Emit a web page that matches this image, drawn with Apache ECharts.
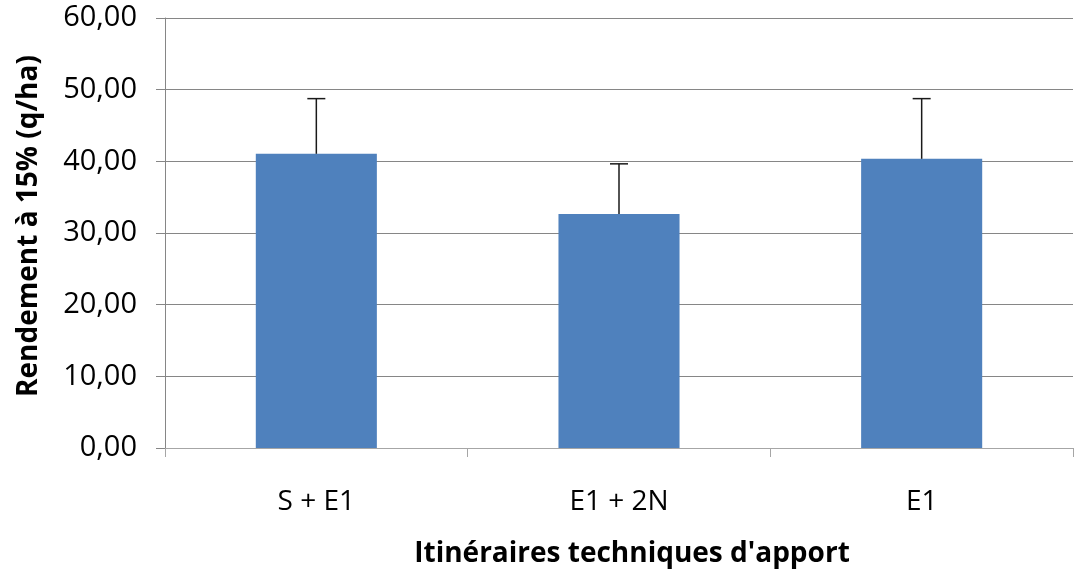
<!DOCTYPE html>
<html>
<head>
<meta charset="utf-8">
<script src="https://cdn.jsdelivr.net/npm/echarts@6/dist/echarts.min.js"></script>
<style>
  html, body { margin: 0; padding: 0; background: #fff; }
  #chart { width: 1074px; height: 571px; }
</style>
</head>
<body>
<div id="chart"></div>
<script>
// données
var categories = ["S + E1", "E1 + 2N", "E1"];
var rendement = [41.05, 32.65, 40.35];
var ecartType = [7.7, 7.0, 8.4];
var yTicks = { min: 0, max: 60, interval: 10 };

var fontFamily = "'Open Sans', 'Liberation Sans', sans-serif";

var errData = rendement.map(function (v, i) {
  return [i, v, v + ecartType[i]];
});

var myChart = echarts.init(document.getElementById("chart"));
myChart.setOption({
  animation: false,
  grid: { left: 165, right: 1, top: 18, bottom: 123, outerBoundsMode: "none", containLabel: false },
  xAxis: {
    type: "category",
    data: categories,
    name: "Itinéraires techniques d'apport",
    nameLocation: "middle",
    nameGap: 92,
    nameTextStyle: { fontFamily: fontFamily, fontSize: 28, fontWeight: "bold", color: "#000", padding: [0, 0, 0, 26] },
    axisLine: { lineStyle: { color: "#a6a6a6", width: 1 } },
    axisTick: { show: true, length: 9, alignWithLabel: false, lineStyle: { color: "#a6a6a6" } },
    axisLabel: { fontFamily: fontFamily, fontSize: 28, color: "#000", margin: 40 },
  },
  yAxis: {
    type: "value",
    min: yTicks.min,
    max: yTicks.max,
    interval: yTicks.interval,
    name: "Rendement à 15% (q/ha)",
    nameLocation: "middle",
    nameGap: 122,
    nameRotate: 90,
    nameTextStyle: { fontFamily: fontFamily, fontSize: 28, fontWeight: "bold", color: "#000", padding: [0, 0, 0, 14] },
    axisLine: { show: true, lineStyle: { color: "#868686", width: 1 } },
    axisTick: { show: true, length: 9, lineStyle: { color: "#868686" } },
    splitLine: { lineStyle: { color: "#868686", width: 1 } },
    axisLabel: {
      fontFamily: fontFamily,
      fontSize: 29,
      color: "#000",
      margin: 28,
      formatter: function (v) { return v.toFixed(2).replace(".", ","); },
    },
  },
  series: [
    {
      name: "Rendement",
      type: "bar",
      data: rendement,
      barWidth: "40%",
      itemStyle: { color: "#4F81BD" },
    },
    {
      name: "Erreur",
      type: "custom",
      data: errData,
      z: 5,
      renderItem: function (params, api) {
        var bas = api.coord([api.value(0), api.value(1)]);
        var haut = api.coord([api.value(0), api.value(2)]);
        var demi = 9;
        var style = { stroke: "#1a1a1a", lineWidth: 1.5 };
        return {
          type: "group",
          children: [
            { type: "line", shape: { x1: bas[0], y1: bas[1], x2: haut[0], y2: haut[1] }, style: style },
            { type: "line", shape: { x1: haut[0] - demi, y1: haut[1], x2: haut[0] + demi, y2: haut[1] }, style: style },
          ],
        };
      },
    },
  ],
});
</script>
</body>
</html>
